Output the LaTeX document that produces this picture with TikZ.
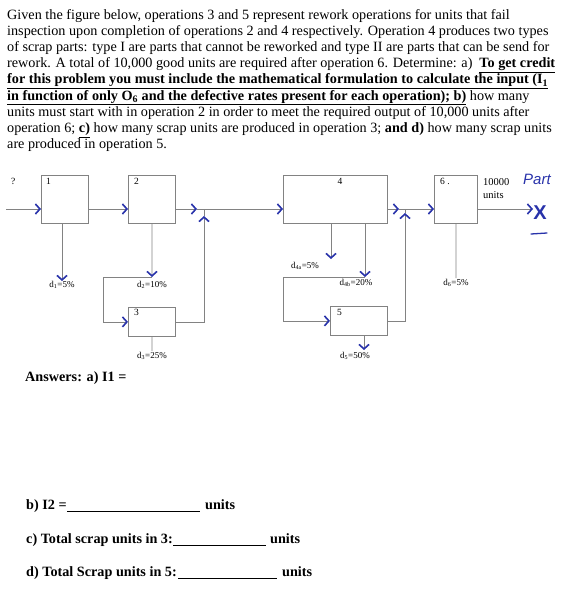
\documentclass[tikz,border=0pt]{standalone}
\usepackage{fontspec}
\setmainfont{Liberation Serif}
\newfontfamily\handfont{Liberation Sans}
\usetikzlibrary{arrows.meta}
\definecolor{hand}{RGB}{40,50,170}
\definecolor{linegray}{RGB}{130,130,130}
\tikzset{
  box/.style={draw=linegray, line width=0.8pt, inner sep=0pt, anchor=north west},
  conn/.style={draw=linegray, line width=0.8pt},
  harr/.style={-{Straight Barb[length=4.5pt,width=10pt,line width=1.6pt,color=hand]}},
  lbl/.style={font=\fontsize{9}{10}\selectfont, inner sep=1pt},
  num/.style={font=\fontsize{9.5}{10}\selectfont, inner sep=0pt, anchor=north west},
  ans/.style={font=\fontsize{14.2}{16}\selectfont\bfseries, anchor=base west, inner sep=0pt},
  blank/.style={draw=black, line width=0.6pt}
}
\begin{document}
\begin{tikzpicture}[x=1pt,y=-1pt]
\useasboundingbox (0,0) rectangle (567,599);
% paragraph
\node[anchor=north west, align=left, inner sep=0pt,
      font={\fontsize{14.2}{16.2}\selectfont}] (para) at (7,9) {%
Given the figure below, operations 3 and 5 represent rework operations for units that fail\\
inspection upon completion of operations 2 and 4 respectively. Operation 4 produces two types\\
of scrap parts: type I are parts that cannot be reworked and type II are parts that can be send for\\
\makebox[548pt][s]{rework. A total of 10,000 good units are required after operation 6. Determine: a)\ \ \underline{\textbf{To get credit}}}\\
\underline{\makebox[541pt][s]{\textbf{for this problem you must include the mathematical formulation to calculate the input (I\textsubscript{1}}}}\\
\underline{\textbf{in function of only O\textsubscript{6} and the defective rates present for each operation); b)}} how many\\
units must start with in operation 2 in order to meet the required output of 10,000 units after\\
operation 6; \underline{\textbf{c)}} how many scrap units are produced in operation 3; \textbf{and d)} how many scrap units\\
are produced in operation 5.};

% boxes
\node[box, minimum width=47, minimum height=48] (b1) at (41,175) {};
\node[box, minimum width=47, minimum height=48] (b2) at (128,175) {};
\node[box, minimum width=47, minimum height=29] (b3) at (128,307) {};
\node[box, minimum width=104, minimum height=48] (b4) at (283,175) {};
\node[box, minimum width=57, minimum height=29] (b5) at (330,306) {};
\node[box, minimum width=43, minimum height=48] (b6) at (434,175) {};

\node[num] (n1) at (46,178) {1};
\node[num] (n2) at (134,178) {2};
\node[num] (n3) at (134,309) {3};
\node[num, anchor=north] (n4) at (340,178) {4};
\node[num] (n5) at (337,309) {5};
\node[num] (n6) at (440,178) {6 .};
\node[num] (q) at (11,178) {?};
\node[num, align=left, font=\fontsize{10.5}{13.5}\selectfont] (out) at (483,178) {10000\\units};

% coordinates
\coordinate (inp) at (6,209);
\coordinate (j1) at (204,209);
\coordinate (j2) at (405,209);
\coordinate (outp) at (533,209);
\coordinate (k2) at (152,277);
\coordinate (k2l) at (103,277);
\coordinate (k4) at (365,277);
\coordinate (k4l) at (283,277);
\coordinate (b4a) at (331,223);
\coordinate (b4b) at (365,223);
\coordinate (b5d) at (364,335);
\coordinate (b1d) at (62,223);

% labels
\node[lbl, anchor=north] (d1) at (62,280) {d\textsubscript{1}=5\%};
\node[lbl, anchor=north] (d2) at (152,280) {d\textsubscript{2}=10\%};
\node[lbl, anchor=north] (d3) at (152,351) {d\textsubscript{3}=25\%};
\node[lbl, anchor=north] (d4a) at (305,261) {d\textsubscript{4a}=5\%};
\node[lbl, anchor=north] (d4b) at (356,278) {d\textsubscript{4b}=20\%};
\node[lbl, anchor=north] (d5) at (355,351) {d\textsubscript{5}=50\%};
\node[lbl, anchor=north] (d6) at (456,278) {d\textsubscript{6}=5\%};

% connectors
\draw[conn, harr] (inp) -- (inp -| b1.west);
\draw[conn, harr] (b1.east |- inp) -- (b2.west |- inp);
\draw[conn, harr] (b2.east |- inp) -- ([xshift=-7]j1);
\draw[conn] ([xshift=-7]j1) -- (j1);
\draw[conn, harr] (j1) -- (b4.west |- inp);
\draw[conn] (b3.east) -| ([yshift=-9]j1);
\draw[conn, harr] ([yshift=-14]j1) -- ([yshift=-7]j1);
\draw[conn] ([yshift=-7]j1) -- (j1);
\draw[conn, harr] (b1d) -- (62,281);
\draw[conn, harr] (b2.south) -- (k2);
\draw[conn, harr] (k2) -- (k2l) |- (b3.west);
\draw[conn] (b3.south) -- (d3.north);
\draw[conn] (b4a) -- (331,253);
\draw[conn, harr] (331,250) -- (331,259);
\draw[conn, harr] (b4b) -- (k4);
\draw[conn, harr] (k4) -- (k4l) |- (b5.west);
\draw[conn, harr] (b5d) -- (364,350);
\draw[conn, harr] (b4.east |- inp) -- ([xshift=-6]j2);
\draw[conn] ([xshift=-6]j2) -- (j2);
\draw[conn] (b5.east) -| ([yshift=-6]j2);
\draw[conn, harr] ([yshift=-11]j2) -- ([yshift=-4]j2);
\draw[conn] ([yshift=-4]j2) -- (j2);
\draw[conn, harr] (j2) -- (b6.west |- inp);
\draw[conn] (b6.south) -- (d6.north);
\draw[conn, harr] (b6.east |- inp) -- (outp);

% handwriting
\node[text=hand, font={\handfont\fontsize{15}{15}\selectfont\itshape}, anchor=north west, inner sep=0pt] (part) at (523,174) {Part};
\node[text=hand, font={\handfont\fontsize{20}{20}\selectfont\bfseries}, inner sep=0pt] (xmark) at (540,213) {X};
\coordinate (u1) at (531,234);
\coordinate (u2) at (547,233);
\draw[hand, line width=1.3pt, line cap=round] (u1) -- (u2);

% answers
\node[ans] (a1) at (25,381) {Answers: a) I1 =};
\node[ans] (a2) at (26,509) {b) I2 =};
\coordinate (l2a) at (67,511); \coordinate (l2b) at (200,511);
\draw[blank] (l2a) -- (l2b);
\node[ans] (a2u) at (205,509) {units};
\node[ans] (a3) at (26,543) {c) Total scrap units in 3:};
\coordinate (l3a) at (173,545); \coordinate (l3b) at (266,545);
\draw[blank] (l3a) -- (l3b);
\node[ans] (a3u) at (270,543) {units};
\node[ans] (a4) at (26,576) {d) Total Scrap units in 5:};
\coordinate (l4a) at (178,578); \coordinate (l4b) at (277,578);
\draw[blank] (l4a) -- (l4b);
\node[ans] (a4u) at (282,576) {units};
\end{tikzpicture}
\end{document}
